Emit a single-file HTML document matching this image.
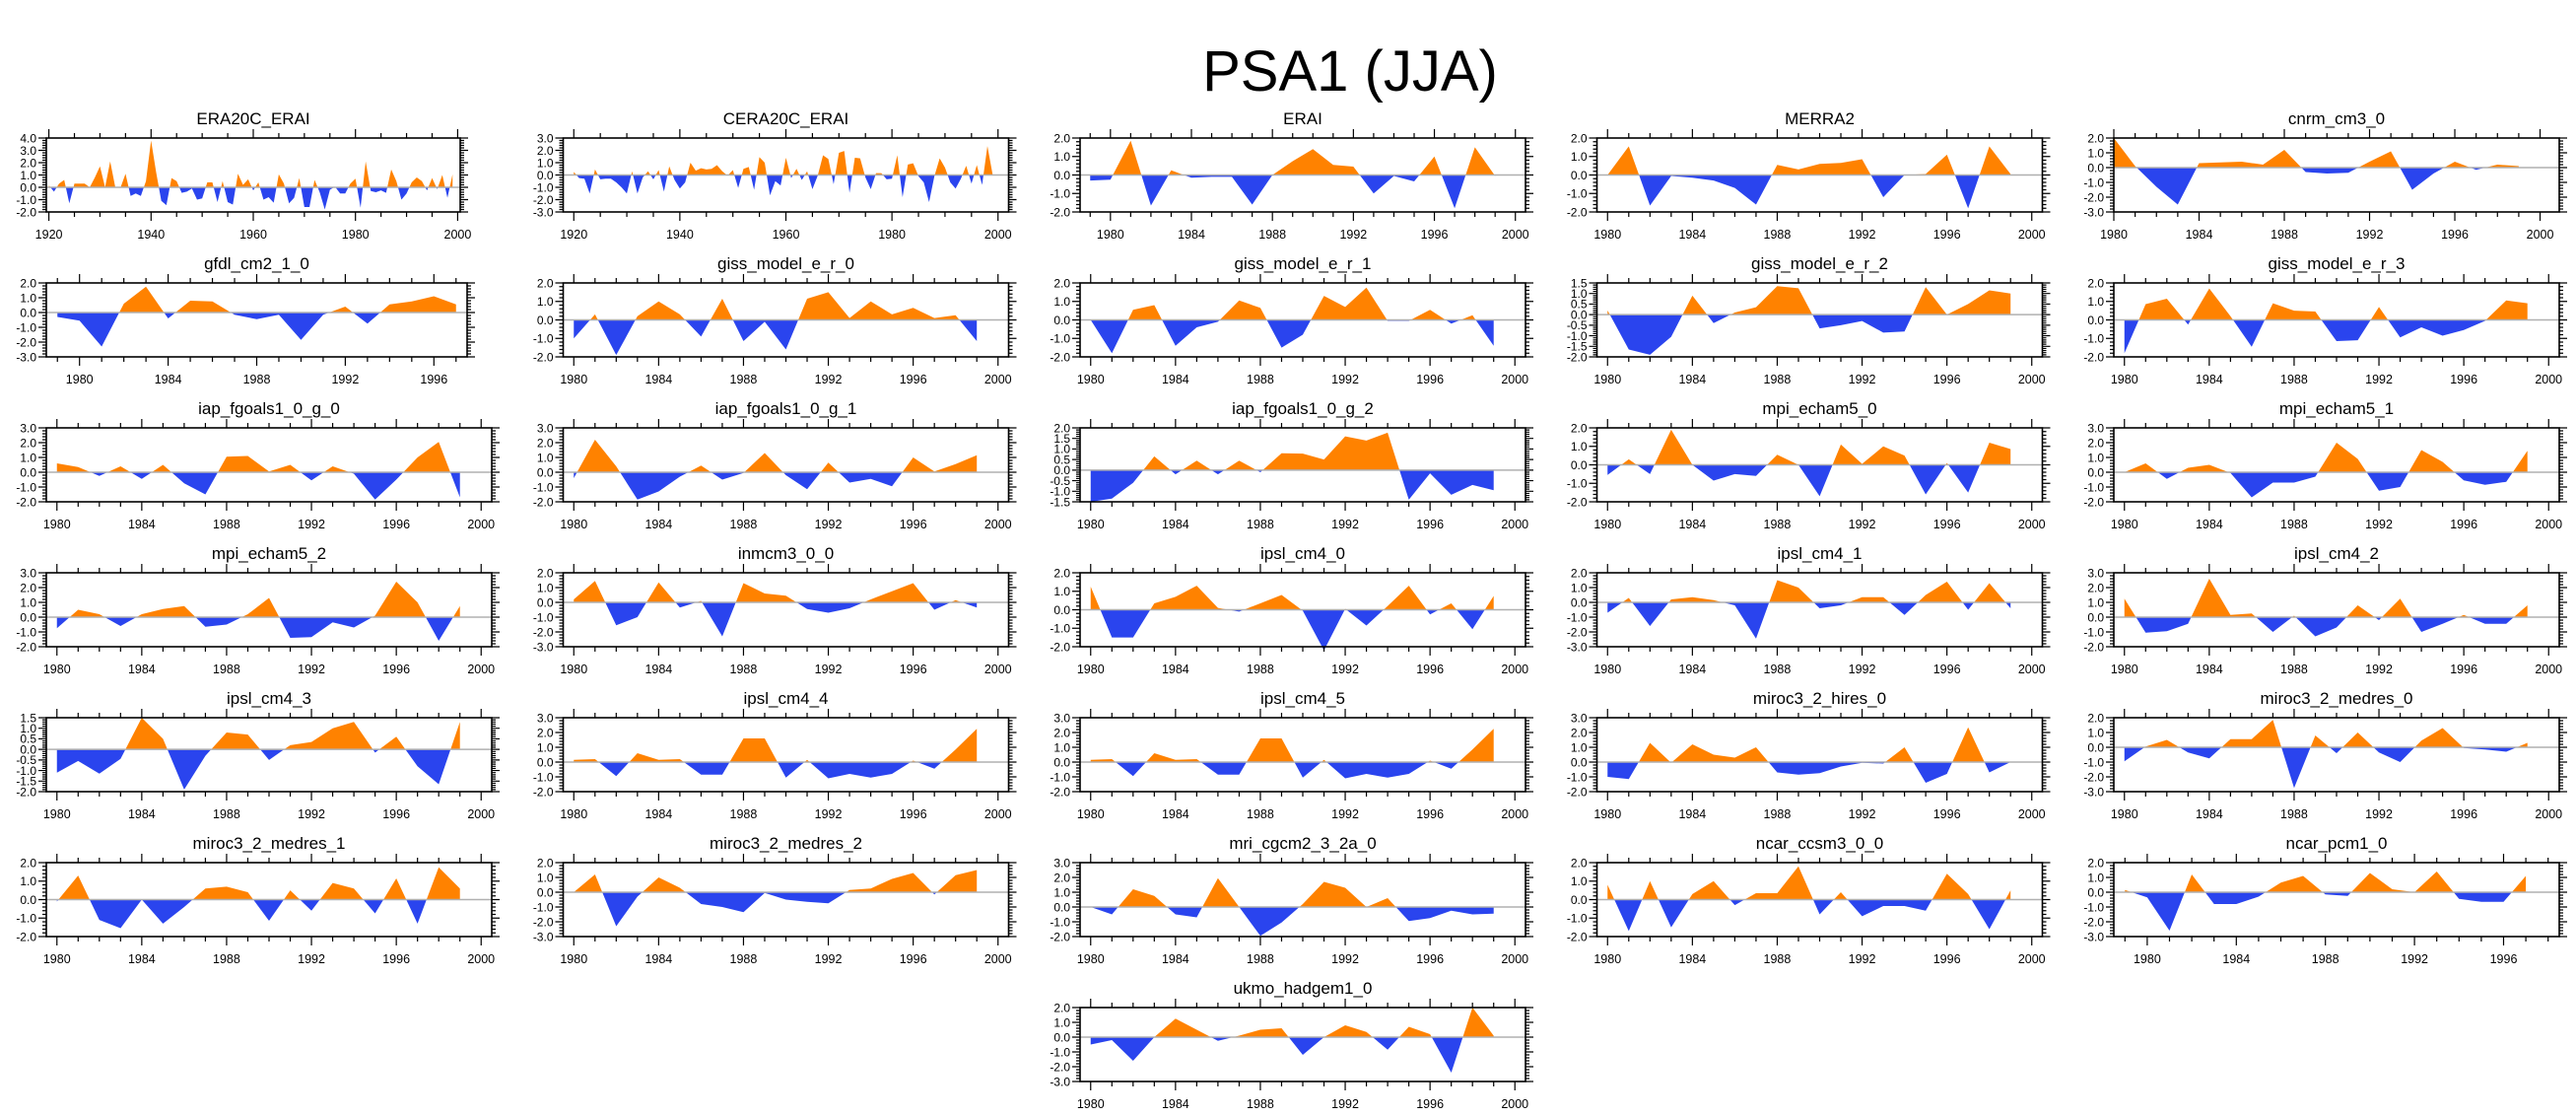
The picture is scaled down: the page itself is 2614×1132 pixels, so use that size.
<!DOCTYPE html>
<html><head><meta charset="utf-8"><title>PSA1 (JJA)</title>
<style>
html,body{margin:0;padding:0;background:#fff;}
svg{display:block;font-family:"Liberation Sans",Arial,sans-serif;}
</style></head>
<body>
<svg id="chart" width="2614" height="1132" viewBox="0 0 2614 1132" xmlns="http://www.w3.org/2000/svg">
<rect x="0" y="0" width="2614" height="1132" fill="#fff"/>
<text x="1370" y="92" text-anchor="middle" font-size="58" fill="#000">PSA1 (JJA)</text>
</svg>
<script>
// ---- data ----
const era20c_erai = [0.15,-0.35,0.3,0.6,-1.3,0.3,0.3,0.3,0.0,0.8,1.7,0.0,2.1,0.0,-0.05,1.1,-0.7,-0.5,-0.7,0.5,3.8,1.2,-1.1,-1.45,0.75,0.5,-0.45,-0.35,-0.1,-1.0,-0.9,0.4,0.4,-1.2,0.5,-1.2,-1.4,1.1,0.2,0.65,-0.25,0.4,-1.0,-0.8,-1.25,1.05,0.3,-1.3,-0.85,0.75,-1.6,-1.6,0.6,-0.4,-1.8,-0.2,0.05,-0.5,-0.5,0.3,0.7,-1.65,2.1,-0.3,-0.4,-0.25,-0.45,1.45,0.5,-1.0,-0.5,0.4,0.8,0.5,-0.25,0.75,-0.15,1.0,-0.85,1.05];
const cera20c_erai = [0.25,-0.25,-0.3,-1.5,0.45,-0.35,-0.3,-0.3,-0.6,-1.0,-1.5,0.3,-1.5,-0.2,0.3,-0.35,0.4,-1.35,0.7,-0.4,-1.1,-0.6,1.0,0.35,0.55,0.45,0.5,0.8,0.3,-0.05,0.4,-1.05,0.5,0.65,-1.2,1.45,1.0,-1.65,-0.5,-0.85,1.4,-0.25,0.5,-0.4,0.3,-1.15,-0.05,1.6,1.3,-0.75,1.8,1.95,-1.45,1.4,1.35,-0.2,-1.15,0.15,0.15,-0.35,-0.3,1.6,-1.8,0.85,0.95,-0.1,-0.6,-2.2,-0.1,1.35,0.6,-0.6,-1.1,-0.3,0.75,-0.7,0.8,-0.8,2.35,0.0];
const erai = [-0.3,-0.25,1.85,-1.65,0.25,-0.15,-0.1,-0.1,-1.6,0.0,0.75,1.4,0.55,0.45,-1.0,-0.05,-0.35,1.0,-1.8,1.5,-0.05];
const merra2 = [0.0,1.55,-1.65,-0.05,-0.15,-0.3,-0.7,-1.6,0.55,0.3,0.6,0.65,0.85,-1.2,0.0,0.05,1.1,-1.8,1.55,0.05];
const cnrm_cm3_0 = [2.0,0.1,-1.3,-2.5,0.3,0.35,0.4,0.2,1.2,-0.3,-0.4,-0.35,0.4,1.1,-1.5,-0.4,0.4,-0.15,0.2,0.1];
const gfdl_cm2_1_0 = [-0.3,-0.55,-2.3,0.6,1.75,-0.4,0.8,0.75,-0.15,-0.45,-0.15,-1.85,-0.15,0.4,-0.75,0.55,0.75,1.1,0.55];
const giss_model_e_r_0 = [-1.0,0.3,-1.9,0.2,1.0,0.3,-0.9,1.15,-1.15,-0.1,-1.6,1.15,1.5,0.1,1.0,0.3,0.65,0.1,0.25,-1.15];
const giss_model_e_r_1 = [0.0,-1.8,0.55,0.8,-1.4,-0.4,-0.1,1.05,0.65,-1.5,-0.8,1.3,0.7,1.75,-0.05,-0.05,0.55,-0.2,0.25,-1.4];
const giss_model_e_r_2 = [0.2,-1.65,-1.9,-1.05,0.9,-0.4,0.1,0.35,1.35,1.25,-0.65,-0.5,-0.3,-0.85,-0.8,1.3,0.0,0.5,1.15,1.0];
const giss_model_e_r_3 = [-1.8,0.85,1.15,-0.25,1.7,0.2,-1.45,0.9,0.5,0.45,-1.15,-1.1,0.7,-0.95,-0.4,-0.85,-0.55,-0.05,1.05,0.9];
const iap_fgoals1_0_g_0 = [0.6,0.35,-0.25,0.4,-0.45,0.5,-0.75,-1.5,1.05,1.1,0.05,0.5,-0.55,0.4,-0.1,-1.85,-0.5,1.0,2.05,-1.7];
const iap_fgoals1_0_g_1 = [-0.4,2.2,0.4,-1.85,-1.3,-0.3,0.45,-0.5,-0.05,1.3,-0.2,-1.15,0.65,-0.7,-0.45,-0.95,1.0,0.05,0.55,1.15];
const iap_fgoals1_0_g_2 = [-1.5,-1.35,-0.6,0.65,-0.2,0.45,-0.2,0.45,-0.1,0.8,0.78,0.5,1.6,1.4,1.77,-1.4,-0.15,-1.17,-0.7,-0.95];
const mpi_echam5_0 = [-0.55,0.3,-0.5,1.9,0.0,-0.85,-0.5,-0.6,0.55,0.0,-1.7,1.1,0.05,1.0,0.5,-1.6,0.1,-1.5,1.2,0.85];
const mpi_echam5_1 = [0.0,0.6,-0.45,0.3,0.5,-0.05,-1.7,-0.7,-0.7,-0.3,2.0,0.9,-1.25,-1.0,1.5,0.7,-0.55,-0.85,-0.65,1.45];
const mpi_echam5_2 = [-0.75,0.5,0.2,-0.6,0.2,0.55,0.75,-0.65,-0.5,0.2,1.3,-1.4,-1.35,-0.35,-0.7,0.1,2.4,1.0,-1.6,0.75];
const inmcm3_0_0 = [0.2,1.45,-1.55,-1.0,1.35,-0.35,0.1,-2.3,1.3,0.6,0.45,-0.45,-0.7,-0.4,0.2,0.75,1.3,-0.5,0.15,-0.35];
const ipsl_cm4_0 = [1.25,-1.5,-1.5,0.35,0.7,1.3,0.1,-0.1,0.35,0.8,-0.05,-2.2,0.05,-0.85,0.2,1.3,-0.25,0.35,-1.05,0.75];
const ipsl_cm4_1 = [-0.7,0.3,-1.6,0.2,0.35,0.15,-0.2,-2.45,1.5,1.0,-0.4,-0.2,0.35,0.35,-0.85,0.5,1.4,-0.5,1.3,-0.4];
const ipsl_cm4_2 = [1.25,-1.05,-0.95,-0.45,2.6,0.15,0.25,-1.0,0.1,-1.3,-0.7,0.8,-0.2,1.25,-1.0,-0.45,0.15,-0.45,-0.45,0.8];
const ipsl_cm4_3 = [-1.1,-0.55,-1.15,-0.45,1.5,0.5,-1.9,-0.3,0.8,0.7,-0.5,0.2,0.35,1.0,1.3,-0.15,0.6,-0.8,-1.65,1.3];
const ipsl_cm4_4 = [0.15,0.2,-0.95,0.6,0.15,0.2,-0.85,-0.85,1.6,1.6,-1.05,0.15,-1.1,-0.8,-1.05,-0.8,0.1,-0.45,0.85,2.25];
const ipsl_cm4_5 = [0.15,0.2,-0.95,0.6,0.15,0.2,-0.85,-0.85,1.6,1.6,-1.05,0.15,-1.1,-0.8,-1.05,-0.8,0.1,-0.45,0.85,2.25];
const miroc3_2_hires_0 = [-1.0,-1.15,1.3,-0.05,1.2,0.5,0.3,1.0,-0.7,-0.85,-0.75,-0.3,-0.05,-0.1,1.0,-1.4,-0.8,2.35,-0.7,0.0];
const miroc3_2_medres_0 = [-0.95,0.05,0.5,-0.35,-0.75,0.55,0.55,1.85,-2.75,0.8,-0.4,1.0,-0.35,-1.0,0.45,1.3,-0.05,-0.15,-0.3,0.3];
const miroc3_2_medres_1 = [-0.1,1.3,-1.1,-1.55,0.0,-1.3,-0.4,0.6,0.7,0.4,-1.15,0.5,-0.6,0.9,0.6,-0.75,1.15,-1.3,1.75,0.6];
const miroc3_2_medres_2 = [0.0,1.2,-2.3,-0.3,1.0,0.3,-0.8,-1.0,-1.35,-0.05,-0.5,-0.65,-0.75,0.15,0.25,0.9,1.3,-0.15,1.15,1.5];
const mri_cgcm2_3_2a_0 = [0.0,-0.5,1.2,0.75,-0.5,-0.7,1.95,0.0,-1.95,-1.05,0.2,1.7,1.3,0.0,0.6,-0.95,-0.75,-0.25,-0.5,-0.45];
const ncar_ccsm3_0_0 = [0.8,-1.7,1.0,-1.5,0.3,1.0,-0.3,0.35,0.35,1.8,-0.8,0.4,-0.9,-0.35,-0.35,-0.6,1.4,0.3,-1.6,0.5];
const ncar_pcm1_0 = [0.15,-0.35,-2.6,1.2,-0.8,-0.8,-0.3,0.65,1.1,-0.15,-0.25,1.3,0.2,0.0,1.4,-0.45,-0.65,-0.65,1.1];
const ukmo_hadgem1_0 = [-0.5,-0.2,-1.6,0.0,1.25,0.5,-0.25,0.1,0.5,0.6,-1.2,0.0,0.8,0.35,-0.85,0.7,0.2,-2.4,2.0,0.1];

// panel titles, in grid order
const panelTitles = ["ERA20C_ERAI","CERA20C_ERAI","ERAI","MERRA2","cnrm_cm3_0",
 "gfdl_cm2_1_0","giss_model_e_r_0","giss_model_e_r_1","giss_model_e_r_2","giss_model_e_r_3",
 "iap_fgoals1_0_g_0","iap_fgoals1_0_g_1","iap_fgoals1_0_g_2","mpi_echam5_0","mpi_echam5_1",
 "mpi_echam5_2","inmcm3_0_0","ipsl_cm4_0","ipsl_cm4_1","ipsl_cm4_2",
 "ipsl_cm4_3","ipsl_cm4_4","ipsl_cm4_5","miroc3_2_hires_0","miroc3_2_medres_0",
 "miroc3_2_medres_1","miroc3_2_medres_2","mri_cgcm2_3_2a_0","ncar_ccsm3_0_0","ncar_pcm1_0",
 "ukmo_hadgem1_0"];
const panelSeries = [era20c_erai,cera20c_erai,erai,merra2,cnrm_cm3_0,
 gfdl_cm2_1_0,giss_model_e_r_0,giss_model_e_r_1,giss_model_e_r_2,giss_model_e_r_3,
 iap_fgoals1_0_g_0,iap_fgoals1_0_g_1,iap_fgoals1_0_g_2,mpi_echam5_0,mpi_echam5_1,
 mpi_echam5_2,inmcm3_0_0,ipsl_cm4_0,ipsl_cm4_1,ipsl_cm4_2,
 ipsl_cm4_3,ipsl_cm4_4,ipsl_cm4_5,miroc3_2_hires_0,miroc3_2_medres_0,
 miroc3_2_medres_1,miroc3_2_medres_2,mri_cgcm2_3_2a_0,ncar_ccsm3_0_0,ncar_pcm1_0,
 ukmo_hadgem1_0];
const panelStartYear = [1920,1920,1979,1980,1980, 1979,1980,1980,1980,1980, 1980,1980,1980,1980,1980,
 1980,1980,1980,1980,1980, 1980,1980,1980,1980,1980, 1980,1980,1980,1980,1979, 1980];
const panelYMin = [-2,-3,-2,-2,-3, -3,-2,-2,-2,-2, -2,-2,-1.5,-2,-2, -2,-3,-2,-3,-2, -2,-2,-2,-2,-3, -2,-3,-2,-2,-3, -3];
const panelYMax = [4,3,2,2,2, 2,2,2,1.5,2, 3,3,2,2,3, 3,2,2,2,3, 1.5,3,3,3,2, 2,2,3,2,2, 2];
const panelYStep = [1,1,1,1,1, 1,1,1,0.5,1, 1,1,0.5,1,1, 1,1,1,1,1, 0.5,1,1,1,1, 1,1,1,1,1, 1];
const panelXMin = [1919.5,1918,1978.5,1979.5,1980, 1978.5,1979.5,1979.5,1979.5,1979.5, 1979.5,1979.5,1979.5,1979.5,1979.5,
 1979.5,1979.5,1979.5,1979.5,1979.5, 1979.5,1979.5,1979.5,1979.5,1979.5, 1979.5,1979.5,1979.5,1979.5,1978.5, 1979.5];
const panelXMax = [2000.5,2002,2000.5,2000.5,2000.9, 1997.5,2000.5,2000.5,2000.5,2000.5, 2000.5,2000.5,2000.5,2000.5,2000.5,
 2000.5,2000.5,2000.5,2000.5,2000.5, 2000.5,2000.5,2000.5,2000.5,2000.5, 2000.5,2000.5,2000.5,2000.5,1998.5, 2000.5];

const NS = "http://www.w3.org/2000/svg";
const svg = document.getElementById('chart');
function mk(tag, attrs, parent){
  const e = document.createElementNS(NS, tag);
  for (const k in attrs) e.setAttribute(k, attrs[k]);
  (parent||svg).appendChild(e);
  return e;
}
const ORANGE = "#ff8200", BLUE = "#2a44ee";

function drawPanel(i){
  const col = i < 30 ? i % 5 : 2;
  const row = i < 30 ? Math.floor(i / 5) : 6;
  const L = 47 + col * 524.5, B = 215 + row * 147, H = 75, T = B - H;
  const W = (i === 0) ? 420 : (i === 5 ? 427 : 452);
  const x0 = panelXMin[i], x1 = panelXMax[i], y0 = panelYMin[i], y1 = panelYMax[i];
  const xs = v => L + (v - x0) / (x1 - x0) * W;
  const ys = v => B - (v - y0) / (y1 - y0) * H;
  const data = panelSeries[i], start = panelStartYear[i];
  const slug = panelTitles[i].toLowerCase().replace(/_/g,'-');

  const g = mk('g', {});
  
  

  const title = mk('text', {x: L + W/2, y: T - 14, 'text-anchor':'middle', 'font-size': 17, fill:'#000'}, g);
  title.textContent = panelTitles[i];
  
  

  const pts = [];
  for (let k = 0; k < data.length; k++){
    const yr = start + k, v = data[k];
    if (k > 0){
      const pv = data[k-1];
      if ((pv > 0 && v < 0) || (pv < 0 && v > 0)){
        const t = pv / (pv - v);
        pts.push([yr - 1 + t, 0]);
      }
    }
    pts.push([yr, v]);
  }
  const first = pts[0][0], last = pts[pts.length-1][0];
  let dp = 'M' + xs(first) + ',' + ys(0);
  let dn = 'M' + xs(first) + ',' + ys(0);
  for (const p of pts){
    dp += 'L' + xs(p[0]).toFixed(2) + ',' + ys(Math.max(p[1],0)).toFixed(2);
    dn += 'L' + xs(p[0]).toFixed(2) + ',' + ys(Math.min(p[1],0)).toFixed(2);
  }
  dp += 'L' + xs(last) + ',' + ys(0) + 'Z';
  dn += 'L' + xs(last) + ',' + ys(0) + 'Z';
  const pos = mk('path', {d: dp, fill: ORANGE}, g);
  
  
  const neg = mk('path', {d: dn, fill: BLUE}, g);
  
  

  const zl = mk('line', {x1: L, x2: L + W, y1: ys(0), y2: ys(0), stroke:'#b0b0b0', 'stroke-width': 1.5}, g);
  
  

  const frame = mk('rect', {x: L, y: T, width: W, height: H, fill:'none', stroke:'#000', 'stroke-width': 1.6}, g);
  
  

  const step = panelYStep[i];
  const minor = step === 1 ? 0.2 : 0.1;
  let tk = '';
  const nMinor = Math.round((y1 - y0) / minor);
  for (let k = 0; k <= nMinor; k++){
    const v = y0 + k * minor;
    const isMajor = Math.abs(v / step - Math.round(v / step)) < 1e-6;
    const len = isMajor ? 8 : 4;
    const y = ys(v).toFixed(2);
    tk += 'M' + L + ',' + y + 'h' + (-len) + 'M' + (L + W) + ',' + y + 'h' + len;
  }
  const nMaj = Math.round((y1 - y0) / step);
  const yax = mk('g', {}, g);
  
  
  for (let k = 0; k <= nMaj; k++){
    const v = y0 + k * step;
    const t = mk('text', {x: L - 10, y: ys(v) + 4.3, 'text-anchor':'end', 'font-size': 12, fill:'#000'}, yax);
    t.textContent = v.toFixed(1);
    
    
  }

  const long = (x1 - x0) > 40;
  const minorX = long ? 5 : 1, majorX = long ? 20 : 4;
  const xax = mk('g', {}, g);
  
  
  for (let yr = Math.ceil(x0 / minorX) * minorX; yr <= x1; yr += minorX){
    const isMajor = yr % majorX === 0;
    const len = isMajor ? 9 : 5;
    const x = xs(yr).toFixed(2);
    tk += 'M' + x + ',' + T + 'v' + (-len) + 'M' + x + ',' + B + 'v' + len;
    if (isMajor){
      const t = mk('text', {x: xs(yr), y: B + 27, 'text-anchor':'middle', 'font-size': 12.5, fill:'#000'}, xax);
      t.textContent = String(yr);
      
      
    }
  }
  const ticks = mk('path', {d: tk, stroke:'#000', 'stroke-width': 1.2, fill:'none'}, g);
  
  
}
for (let i = 0; i < panelTitles.length; i++) drawPanel(i);
</script>
</body></html>
